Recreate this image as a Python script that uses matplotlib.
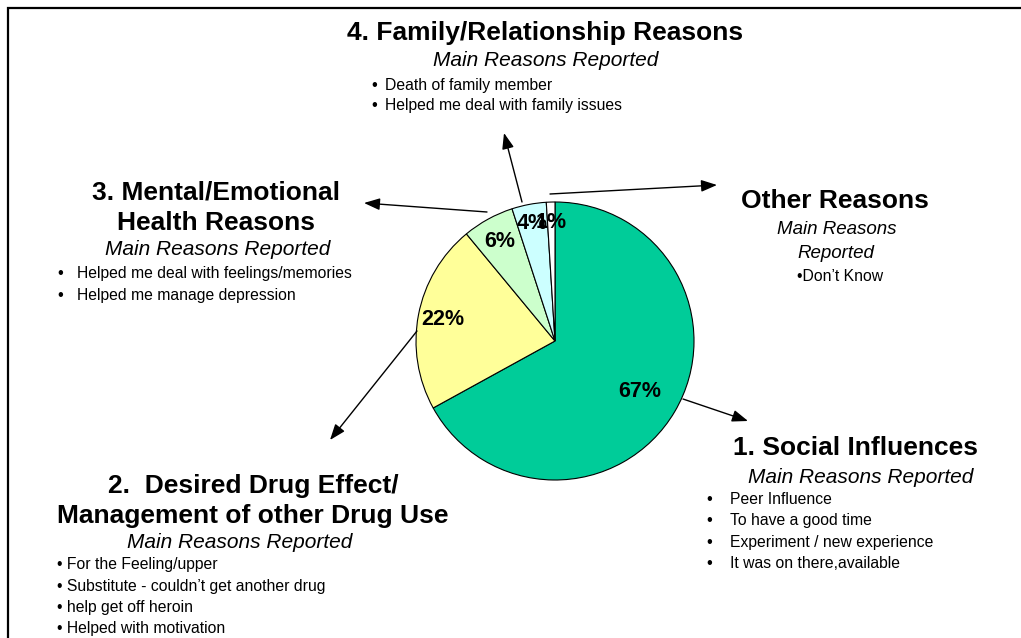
import matplotlib
matplotlib.use('Agg')
import matplotlib.pyplot as plt
import numpy as np

plt.rcParams['font.family'] = ['Liberation Sans', 'DejaVu Sans']

# share of respondents per reason group, clockwise from 12 o'clock
shares = [67, 22, 6, 4, 1]
slice_colors = ['#00CC99', '#FFFF99', '#CCFFCC', '#CCFFFF', '#FFFFFF']
label_radius = [0.71, 0.82, 0.82, 0.86, 0.85]

social_title = ['1. Social Influences']
social_reasons = ['Peer Influence', 'To have a good time',
                  'Experiment / new experience', 'It was on there,available']
drug_title = ['2.  Desired Drug Effect/', 'Management of other Drug Use']
drug_reasons = ['For the Feeling/upper', 'Substitute - couldn\u2019t get another drug',
                'help get off heroin', 'Helped with motivation']
mental_title = ['3. Mental/Emotional', 'Health Reasons']
mental_reasons = ['Helped me deal with feelings/memories', 'Helped me manage depression']
family_title = ['4. Family/Relationship Reasons']
family_reasons = ['Death of family member', 'Helped me deal with family issues']
other_title = ['Other Reasons']
other_reasons = ['Don\u2019t Know']
subtitle = 'Main Reasons Reported'

W, H = 1021, 638
fig = plt.figure(figsize=(W / 100, H / 100), dpi=100)

# pie in its own square axes, centre (555, 341) px, radius 139 px
cx, cy, R = 555, 341, 139
pad = 1.1
pie_ax = fig.add_axes([(cx - pad * R) / W, (H - cy - pad * R) / H,
                       2 * pad * R / W, 2 * pad * R / H])
wedges, _ = pie_ax.pie(shares, colors=slice_colors, startangle=90,
                       counterclock=False,
                       wedgeprops=dict(edgecolor='black', linewidth=0.8))
pie_ax.set_xlim(-pad, pad)
pie_ax.set_ylim(-pad, pad)
pie_ax.axis('off')

for w, s, r in zip(wedges, shares, label_radius):
    a = np.deg2rad((w.theta1 + w.theta2) / 2)
    pie_ax.text(r * np.cos(a), r * np.sin(a), f'{s}%', ha='center', va='center',
                fontsize=15.5, fontweight='bold')

# overlay in pixel coordinates for the callouts
ax = fig.add_axes([0, 0, 1, 1])
ax.set_xlim(0, W)
ax.set_ylim(H, 0)
ax.axis('off')

ax.plot([8, 8, W], [H, 8, 8], color='black', lw=1.6, solid_joinstyle='miter')


def baseline(y, size):
    # y is the visual middle of the capitals
    return y + 0.716 * size * 100 / 72 / 2


def put(x, y, s, size, **kw):
    ax.text(x, baseline(y, size), s, fontsize=size, va='baseline', **kw)


def block(x, title_y, titles, sub_y, reasons, bullet_x, text_x, rows, sub_x=None):
    for t, y in zip(titles, title_y):
        put(x, y, t, 19, ha='center', fontweight='bold')
    put(sub_x if sub_x else x, sub_y, subtitle, 15, ha='center', style='italic')
    for r, y in zip(reasons, rows):
        ax.text(bullet_x, baseline(y, 11.3), '\u2022', fontsize=12, va='baseline')
        put(text_x, y, r, 11.3, ha='left')


block(545, [31], family_title, 59, family_reasons, 371, 385, [84, 104], sub_x=546)
block(216, [190, 221], mental_title, 248, mental_reasons, 57, 77, [272, 294], sub_x=218)
block(855, [446], social_title, 476, social_reasons, 706, 730, [498, 519.5, 541, 562.5], sub_x=861)

for t, y in zip(drug_title, [484, 514]):
    put(253, y, t, 19, ha='center', fontweight='bold')
put(240, 541, subtitle, 15, ha='center', style='italic')
for r, y in zip(drug_reasons, [563, 585, 606, 627]):
    put(57, y, '\u2022 ' + r, 11.3, ha='left')

put(835, 199, other_title[0], 19, ha='center', fontweight='bold')
put(837, 227, 'Main Reasons', 13.5, ha='center', style='italic')
put(836, 251, 'Reported', 13.5, ha='center', style='italic')
put(840, 275, '\u2022' + other_reasons[0], 11.3, ha='center')

# arrows from the pie to each group: (tail, head)
arrows = [((522, 202), (504, 133)),
          ((550, 194), (717, 185)),
          ((487, 212), (364, 203)),
          ((417, 331), (330, 440)),
          ((683, 399), (748, 421))]
for tail, head in arrows:
    ax.annotate('', xy=head, xytext=tail,
                arrowprops=dict(arrowstyle='-|>,head_length=0.8,head_width=0.3',
                                color='black', lw=1, mutation_scale=12,
                                shrinkA=0, shrinkB=0))

plt.savefig('out.png', dpi=100, facecolor='white')
